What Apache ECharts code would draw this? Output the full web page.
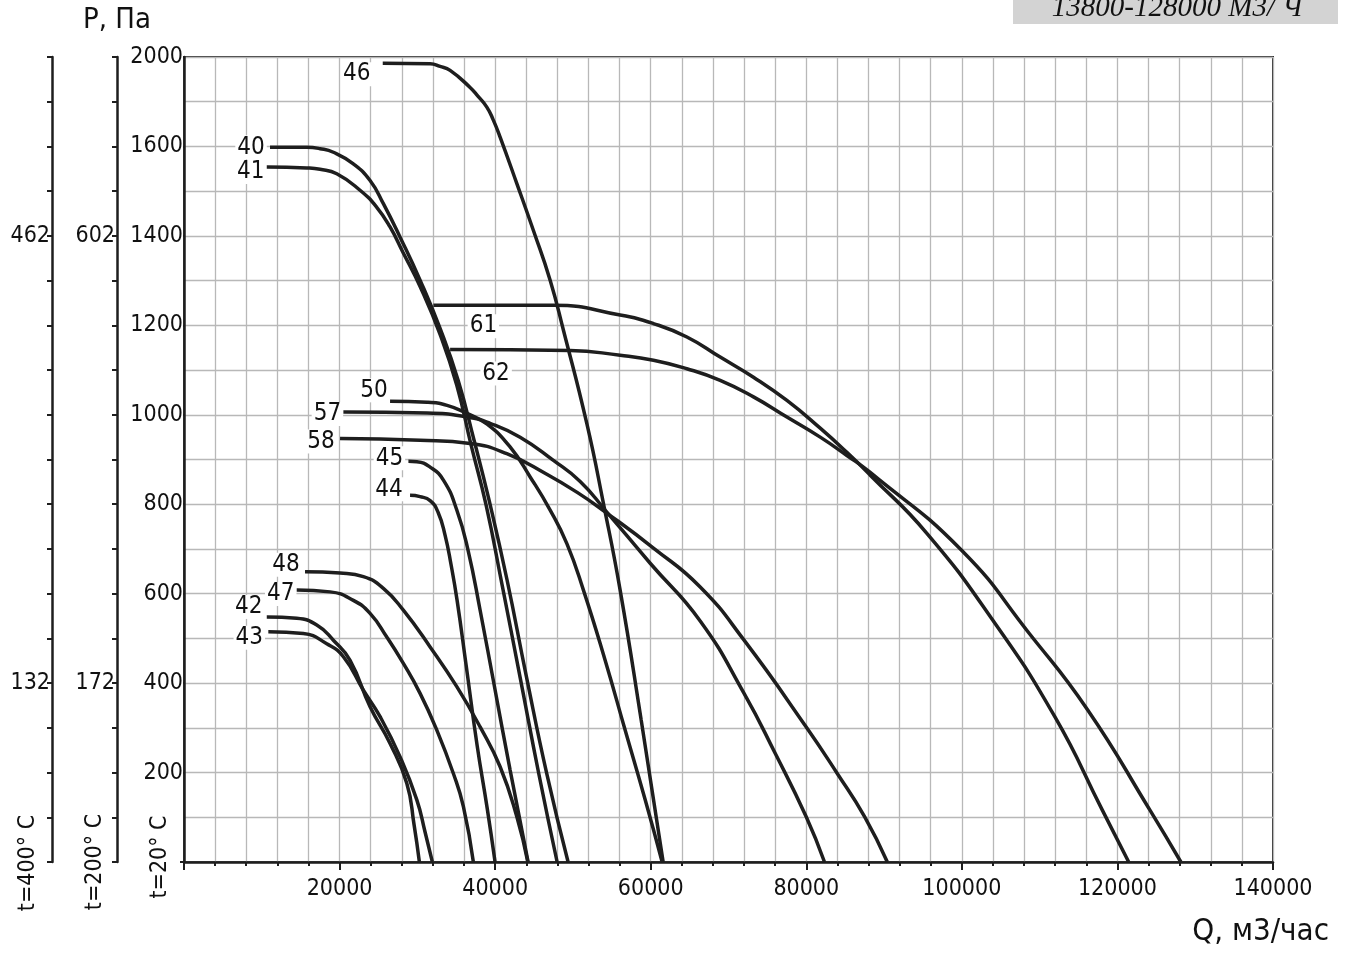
<!DOCTYPE html>
<html>
<head>
<meta charset="utf-8">
<script src="https://cdn.jsdelivr.net/npm/echarts@6/dist/echarts.min.js"></script>
<style>
html, body { margin: 0; padding: 0; background: #fff; }
#chart { width: 1345px; height: 955px; }
</style>
</head>
<body>
<div id="chart"></div>
<script>
// fan curves, Q m3/h vs P (drawing units, top line is labelled 2000)
var names = ['46', '40', '41', '42', '43', '47', '48', '44', '45', '50', '57', '58', '61', '62'];

var c46 = [[25550,1786],[31640,1785],[32920,1779],[34210,1770],[36780,1732],[37810,1712],[38930,1688],[39740,1660],[40640,1621],[42790,1517],[44920,1412],[47070,1301],[48780,1189],[51790,980],[53920,802],[56070,608],[58770,318],[61600,0]];
var c40 = [[11060,1598],[15780,1598],[17490,1595],[19200,1587],[21770,1561],[23920,1524],[25630,1472],[27780,1397],[30350,1301],[32920,1193],[35240,1077],[37290,943],[39220,809],[41540,630],[43980,418],[46680,194],[49380,0]];
var c41 = [[10640,1554],[15780,1552],[17490,1549],[19640,1539],[22630,1502],[24780,1464],[26490,1420],[28160,1363],[30350,1287],[32920,1180],[35070,1066],[36910,932],[38840,798],[40900,619],[43210,413],[45650,194],[47970,0]];
var c42 = [[10640,548],[14490,545],[17070,530],[19200,496],[21350,451],[23920,347],[26490,265],[28640,176],[29580,83],[30260,0]];
var c43 = [[10840,515],[15340,511],[18350,488],[20490,459],[23060,384],[25210,325],[27780,235],[29930,139],[30990,67],[31930,0]];
var c47 = [[14490,608],[18780,604],[21770,585],[23920,556],[26070,503],[28200,444],[30350,377],[32500,295],[34630,198],[35920,124],[37200,0]];
var c48 = [[15560,649],[20060,646],[23060,638],[25630,612],[28200,563],[31640,481],[35070,392],[38070,302],[40640,213],[42790,101],[44200,0]];
var c44 = [[29060,820],[30350,817],[31640,808],[32660,782],[33560,731],[34340,664],[35110,585],[36270,440],[37680,261],[38970,121],[39990,0]];
var c45 = [[28850,896],[29930,895],[31640,883],[33350,854],[35070,787],[36520,697],[38070,563],[40000,384],[41920,206],[44240,0]];
var c50 = [[26490,1030],[31250,1028],[33820,1021],[36390,1003],[38970,979],[41920,928],[44500,861],[47070,787],[49220,712],[51350,608],[54140,451],[56710,295],[59290,139],[61470,0]];
var c57 = [[20490,1006],[31250,1004],[36390,995],[39350,981],[43210,950],[47490,898],[50930,851],[54140,787],[59930,668],[66360,539],[72000,377],[76000,243],[79990,101],[82340,0]];
var c58 = [[20060,947],[30350,943],[36780,936],[41500,913],[46640,867],[50500,827],[54140,783],[60350,702],[66360,615],[72000,496],[79990,302],[83980,198],[87510,101],[90420,0]];
var c61 = [[32060,1245],[47490,1245],[56070,1223],[60350,1204],[64650,1174],[68930,1129],[73210,1084],[77510,1032],[81790,970],[85220,916],[88220,865],[95500,735],[103960,541],[111950,325],[118060,116],[121450,0]];
var c62 = [[34210,1146],[49640,1144],[56070,1133],[60350,1122],[64650,1103],[68930,1077],[73210,1040],[77510,995],[81790,950],[85220,909],[88220,871],[99960,697],[108670,511],[116180,340],[124180,116],[128160,0]];

var curves = [c46, c40, c41, c42, c43, c47, c48, c44, c45, c50, c57, c58, c61, c62];

// tick labels
var pTickText = {200:'200', 400:'400', 600:'600', 800:'800', 1000:'1000', 1200:'1200', 1400:'1400', 1600:'1600', 1800:'2000'};
var t200Text = {1400:'602', 400:'172'};
var t400Text = {1400:'462', 400:'132'};

// where each curve number sits relative to the curve start (px)
var labelOffsets = [[-26,11],[-19,0],[-16,5],[-18,-10],[-19,6],[-16,4],[-19,-7],[-21,-6],[-19,-3],[-16,-11],[-16,2],[-19,3],[50,21],[46,24]];

var FONT = '"DejaVu Sans Condensed", "Liberation Sans Narrow", "DejaVu Sans", sans-serif';
var INK = '#1e1e1e';

var myChart = echarts.init(document.getElementById('chart'));

var series = curves.map(function (pts, i) {
	return {
		name: names[i],
		type: 'line',
		data: pts,
		smooth: 0.5,
		symbol: 'none',
		lineStyle: { color: INK, width: 3.5 },
		z: 5,
		markPoint: {
			symbol: 'circle',
			symbolSize: 1,
			itemStyle: { color: 'rgba(0,0,0,0)' },
			label: {
				show: true,
				position: 'inside',
				formatter: names[i],
				offset: labelOffsets[i],
				color: '#111',
				fontFamily: FONT,
				fontSize: 24,
				backgroundColor: '#fff',
				padding: [0, 2]
			},
			data: [{ coord: pts[0] }]
		}
	};
});

function sideAxis(offset, texts) {
	return {
		type: 'value',
		position: 'left',
		offset: offset,
		min: 0,
		max: 1800,
		interval: 100,
		splitLine: { show: false },
		axisLine: { show: true, lineStyle: { color: INK, width: 2.5 } },
		axisTick: { show: true, length: 5, lineStyle: { color: INK, width: 2 } },
		axisLabel: {
			margin: 2,
			color: '#111',
			fontFamily: FONT,
			fontSize: 23,
			formatter: function (v) { return texts[v] || ''; }
		}
	};
}

var option = {
	animation: false,
	backgroundColor: '#fff',
	grid: {
		left: 184,
		right: 72,
		top: 57,
		bottom: 93,
		show: true,
		borderColor: '#333',
		borderWidth: 2
	},
	xAxis: {
		type: 'value',
		min: 0,
		max: 140000,
		interval: 20000,
		axisLine: { lineStyle: { color: INK, width: 2.5 } },
		axisTick: { length: 8, lineStyle: { color: INK, width: 2 } },
		minorTick: { show: true, splitNumber: 5, length: 4, lineStyle: { color: INK, width: 2 } },
		splitLine: { show: true, lineStyle: { color: '#b8b8b8', width: 1.3 } },
		minorSplitLine: { show: true, lineStyle: { color: '#b8b8b8', width: 1.3 } },
		axisLabel: {
			margin: 16,
			color: '#111',
			fontFamily: FONT,
			fontSize: 23,
			formatter: function (v) { return v === 0 ? '' : String(v); }
		}
	},
	yAxis: [{
		type: 'value',
		min: 0,
		max: 1800,
		interval: 200,
		axisLine: { show: true, lineStyle: { color: INK, width: 2.5 } },
		axisTick: { show: true, length: 4, lineStyle: { color: INK, width: 2 } },
		splitLine: { show: true, lineStyle: { color: '#b8b8b8', width: 1.3 } },
		minorSplitLine: { show: true, lineStyle: { color: '#b8b8b8', width: 1.3 } },
		minorTick: { show: false, splitNumber: 2 },
		axisLabel: {
			margin: 1,
			color: '#111',
			fontFamily: FONT,
			fontSize: 23,
			backgroundColor: '#fff',
			formatter: function (v) { return pTickText[v] || ''; }
		}
	}, sideAxis(67, t200Text), sideAxis(132, t400Text)],
	series: series,
	graphic: [
		{ type: 'rect', left: 1013, top: 0, shape: { width: 325, height: 24 }, style: { fill: '#d3d3d3' }, z: 10 },
		{ type: 'text', x: 1177, y: 23, z: 11, style: { text: '13800-128000 М3/ Ч', fill: '#111', font: 'italic 29px "Liberation Serif", "DejaVu Serif", serif', textAlign: 'center', textVerticalAlign: 'bottom' } },
		{ type: 'text', x: 83, y: 20, z: 11, style: { text: 'P, Па', fill: '#111', font: '29px ' + FONT, textAlign: 'left', textVerticalAlign: 'middle' } },
		{ type: 'text', x: 1329, y: 932, z: 11, style: { text: 'Q, м3/час', fill: '#111', font: '31px ' + FONT, textAlign: 'right', textVerticalAlign: 'middle' } },
		{ type: 'text', x: 28, y: 863, rotation: Math.PI / 2, z: 11, style: { text: 't=400° C', fill: '#111', font: '23px ' + FONT, textAlign: 'center', textVerticalAlign: 'middle' } },
		{ type: 'text', x: 95, y: 862, rotation: Math.PI / 2, z: 11, style: { text: 't=200° C', fill: '#111', font: '23px ' + FONT, textAlign: 'center', textVerticalAlign: 'middle' } },
		{ type: 'text', x: 160, y: 857, rotation: Math.PI / 2, z: 11, style: { text: 't=20° C', fill: '#111', font: '23px ' + FONT, textAlign: 'center', textVerticalAlign: 'middle', backgroundColor: '#fff' } }
	]
};

myChart.setOption(option);
</script>
</body>
</html>
